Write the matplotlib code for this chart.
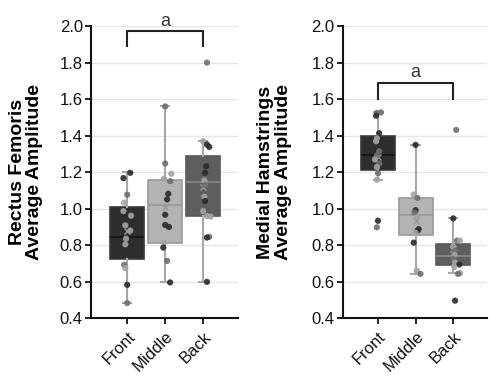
import matplotlib
matplotlib.use('Agg')
import matplotlib.pyplot as plt
import numpy as np

plt.rcParams['font.family'] = ['Liberation Sans', 'DejaVu Sans']

# Data
categories = ['Front', 'Middle', 'Back']

# box stats: (whisker low, q1, median, q3, whisker high)
rf_box = [(0.480, 0.726, 0.846, 1.008, 1.198),
          (0.595, 0.813, 1.019, 1.159, 1.560),
          (0.598, 0.959, 1.145, 1.287, 1.369)]
mh_box = [(1.158, 1.209, 1.296, 1.396, 1.527),
          (0.642, 0.855, 0.964, 1.060, 1.349),
          (0.646, 0.691, 0.742, 0.804, 0.946)]

# individual subjects
rf_front = [1.196, 1.167, 1.076, 1.032, 0.986, 0.961, 0.908, 0.879, 0.835, 0.804, 0.691, 0.673, 0.582, 0.482]
rf_middle = [1.560, 1.247, 1.191, 1.163, 1.150, 1.081, 1.050, 0.966, 0.910, 0.899, 0.813, 0.786, 0.713, 0.595]
rf_back = [1.800, 1.369, 1.351, 1.338, 1.232, 1.196, 1.154, 1.128, 1.065, 1.041, 0.986, 0.959, 0.956, 0.845, 0.841, 0.598]
mh_front = [1.527, 1.524, 1.509, 1.413, 1.385, 1.369, 1.314, 1.291, 1.269, 1.246, 1.227, 1.194, 1.158, 0.933, 0.897]
mh_middle = [1.349, 1.077, 1.058, 0.991, 0.978, 0.951, 0.887, 0.878, 0.867, 0.813, 0.660, 0.642]
mh_back = [1.431, 0.946, 0.824, 0.824, 0.791, 0.769, 0.746, 0.722, 0.704, 0.693, 0.679, 0.646, 0.642, 0.495]

# jitter offsets and shades of the dots (d=dark, m=mid, l=light)
rf_jitter = [[0.08, -0.1, 0, -0.08, -0.1, 0.1, -0.05, 0.08, -0.03, -0.05, -0.08, -0.05, 0, 0],
             [0, 0, 0.16, -0.03, 0.13, 0.08, 0.05, 0, 0, 0.1, -0.03, -0.05, 0.05, 0.13],
             [0.1, 0, 0.1, 0.16, 0.08, 0.05, 0.03, 0.05, 0.03, 0.05, 0, 0.1, 0.2, 0.16, 0.1, 0.1]]
mh_jitter = [[0.08, -0.03, -0.05, 0.03, -0.03, -0.05, 0.03, -0.03, -0.08, 0.03, -0.03, 0, -0.03, 0, -0.03],
             [0, -0.05, 0.05, 0, -0.03, 0.03, 0.08, 0.05, 0, -0.05, 0.03, 0.13],
             [0.08, 0, 0.1, 0.18, 0, 0.05, 0.03, 0, 0.05, 0.16, 0.03, 0.18, 0.13, 0.05]]
rf_shades = ['ddmlllllllmldm', 'mmllmdddddldmd', 'mlddddlmldlllmdd']
mh_shades = ['mmddllmmlmlmldm', 'dlmdmlddldlm', 'mdmllmlmldllmd']

shade_colors = {'d': '#2a2a2a', 'm': '#6f6f6f', 'l': '#a3a3a3'}
box_colors = ['#2e2e2e', '#b3b3b3', '#5e5e5e']
box_edges = ['#3a3a3a', '#9a9a9a', '#5a5a5a']
median_colors = ['#151515', '#999999', '#8a8a8a']
whisker_color = '#a8a8a8'


def draw_panel(ax, boxes, groups, jitters, shades, ylabel, bracket, xlim):
    stats = []
    for (lo, q1, med, q3, hi), pts in zip(boxes, groups):
        stats.append({'whislo': lo, 'q1': q1, 'med': med, 'q3': q3, 'whishi': hi,
                      'mean': np.mean(pts), 'fliers': []})
    ax.set_axisbelow(True)
    ax.grid(axis='y', color='#e6e6e6', linewidth=1.0)
    bp = ax.bxp(stats, positions=range(len(stats)), widths=0.9, capwidths=0.22,
                patch_artist=True, showmeans=True, showfliers=False,
                meanprops=dict(marker='x', markeredgecolor='#9a9a9a', markersize=5),
                whiskerprops=dict(color=whisker_color, linewidth=1.5),
                capprops=dict(color=whisker_color, linewidth=1.5))
    for i, patch in enumerate(bp['boxes']):
        patch.set_facecolor(box_colors[i])
        patch.set_edgecolor(box_edges[i])
        patch.set_linewidth(1.2)
        bp['medians'][i].set_color(median_colors[i])
        bp['medians'][i].set_linewidth(1.2)
    for i, (pts, jit, sh) in enumerate(zip(groups, jitters, shades)):
        xs = i + np.array(jit)
        cols = [shade_colors[c] for c in sh]
        ax.scatter(xs, pts, s=20, c=cols, alpha=0.9, linewidths=0, zorder=4)

    # significance bracket
    b_low, b_top, b_text = bracket
    ax.plot([0, 0, 2, 2], [b_low, b_top, b_top, b_low], color='#222222',
            linewidth=1.5, clip_on=False, zorder=5)
    ax.text(1, b_text, 'a', ha='center', va='center', fontsize=13, color='#333333')

    ax.set_ylim(0.4, 2.0)
    ax.set_xlim(*xlim)
    ax.set_yticks(np.arange(0.4, 2.01, 0.2))
    ax.set_yticklabels([f'{v:.1f}' for v in np.arange(0.4, 2.01, 0.2)], fontsize=12)
    ax.set_xticks(range(len(categories)))
    ax.set_xticklabels(categories, rotation=45, ha='right', rotation_mode='anchor', fontsize=12)
    ax.set_ylabel(ylabel, fontsize=14, fontweight='bold', linespacing=1.05)
    for side in ['top', 'right']:
        ax.spines[side].set_visible(False)
    for side in ['left', 'bottom']:
        ax.spines[side].set_linewidth(1.5)
        ax.spines[side].set_color('#111111')
    ax.tick_params(axis='both', length=4, width=1.3, colors='#111111', pad=2)
    ax.tick_params(axis='x', pad=4)


fig = plt.figure(figsize=(4.9, 3.79), dpi=100)
ax1 = fig.add_axes([0.186, 0.161, 0.300, 0.770])
ax2 = fig.add_axes([0.700, 0.161, 0.294, 0.770])

draw_panel(ax1, rf_box, [rf_front, rf_middle, rf_back], rf_jitter, rf_shades,
           'Rectus Femoris\nAverage Amplitude', (1.892, 1.974, 2.025), (-0.95, 2.92))
draw_panel(ax2, mh_box, [mh_front, mh_middle, mh_back], mh_jitter, mh_shades,
           'Medial Hamstrings\nAverage Amplitude', (1.60, 1.689, 1.745), (-0.93, 2.9))

ax1.yaxis.set_label_coords(-0.325, 0.5)
ax2.yaxis.set_label_coords(-0.355, 0.5)

plt.savefig('out.png', dpi=100)
plt.close()
